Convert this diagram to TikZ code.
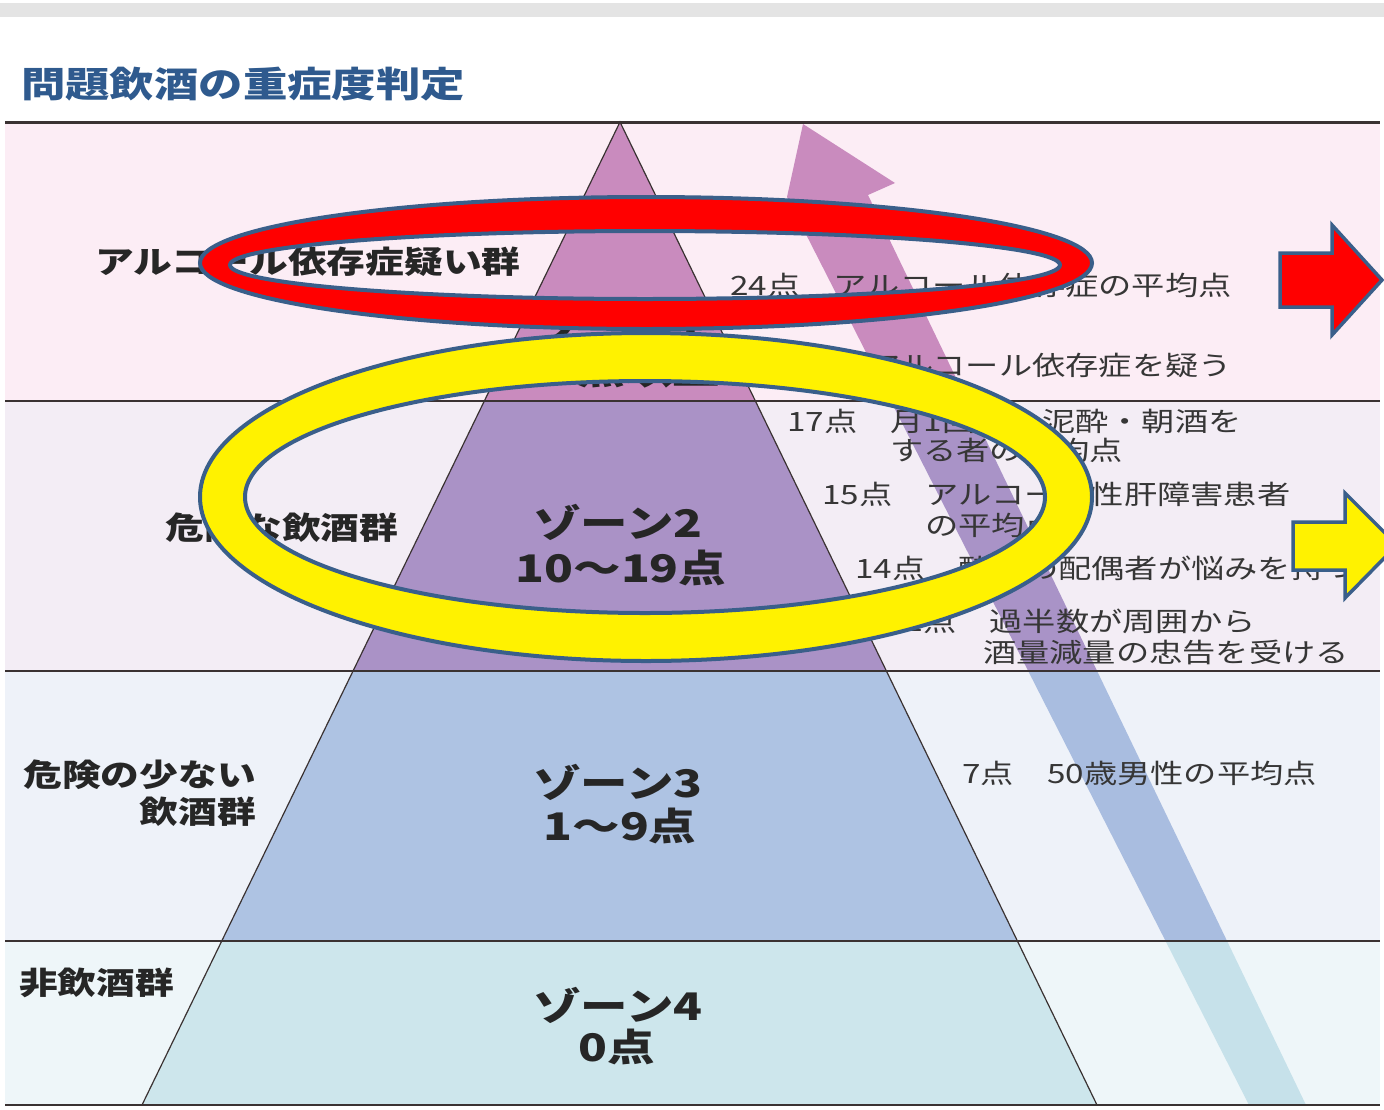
\documentclass[tikz,border=0pt]{standalone}
\usepackage{fontspec}
\setmainfont[FakeStretch=1.25]{Noto Sans CJK JP}
\definecolor{bandA}{HTML}{FCEDF5}
\definecolor{bandB}{HTML}{F3EDF5}
\definecolor{bandC}{HTML}{EEF2F9}
\definecolor{bandD}{HTML}{EEF6F9}
\definecolor{pyrA}{HTML}{C98BBE}
\definecolor{pyrB}{HTML}{AA92C6}
\definecolor{pyrC}{HTML}{AEC3E3}
\definecolor{pyrD}{HTML}{CDE6EC}
\definecolor{arrA}{HTML}{C98BBE}
\definecolor{arrB}{HTML}{A993C7}
\definecolor{arrC}{HTML}{A9BDE0}
\definecolor{arrD}{HTML}{C6E1EA}
\definecolor{ringedge}{HTML}{3A5F8A}
\definecolor{titleblue}{HTML}{2F5A8E}
\definecolor{linecol}{HTML}{3A3232}
\definecolor{txtgray}{HTML}{363636}
\definecolor{topbar}{HTML}{E4E4E4}
\tikzset{
  bandline/.style={draw=linecol, line width=2.5pt},
  pyredge/.style={draw=linecol, line width=1.2pt},
  leftlabel/.style={inner sep=0pt, font=\bfseries\fontsize{31}{36}\selectfont, text=black!85},
  righttext/.style={inner sep=0pt, font=\fontsize{26.6}{30}\selectfont, text=txtgray, anchor=west},
  zonetext/.style={inner sep=0pt, font=\bfseries\fontsize{38}{44}\selectfont, text=black!85},
  ring/.style={draw=ringedge, line width=4pt, even odd rule},
  blockarrow/.style={draw=ringedge, line width=3.5pt, line join=miter},
  bigarrow/.style={insert path={(803,124) -- (895,183) -- (868,195) -- (1306,1105) -- (1249,1105) -- (787,197) -- cycle}}
}
\begin{document}
\begin{tikzpicture}[x=1pt,y=-1pt]
\useasboundingbox (0,0) rectangle (1384,1109);
\clip (0,0) rectangle (1384,1109);
\fill[white] (0,0) rectangle (1384,1109);
% top grey bar
\fill[topbar] (0,3) rectangle (1384,17);
% title
\node[anchor=west, inner sep=0pt, font=\bfseries\fontsize{35.5}{40}\selectfont, text=titleblue] (title) at (21,84) {問題飲酒の重症度判定};
% bands
\fill[bandA] (5,122) rectangle (1380,401);
\fill[bandB] (5,401) rectangle (1380,671);
\fill[bandC] (5,671) rectangle (1380,941);
\fill[bandD] (5,941) rectangle (1380,1105);
% big arrow, coloured per band
\begin{scope}\clip (5,110) rectangle (1380,401); \fill[arrA, bigarrow]; \end{scope}
\begin{scope}\clip (5,401) rectangle (1380,671); \fill[arrB, bigarrow]; \end{scope}
\begin{scope}\clip (5,671) rectangle (1380,941); \fill[arrC, bigarrow]; \end{scope}
\begin{scope}\clip (5,941) rectangle (1380,1105); \fill[arrD, bigarrow]; \end{scope}
% pyramid zones
\fill[pyrA] (620,122) -- (755.4,401) -- (484.3,401) -- cycle;
\fill[pyrB] (484.3,401) -- (755.4,401) -- (886.4,671) -- (353,671) -- cycle;
\fill[pyrC] (353,671) -- (886.4,671) -- (1017.5,941) -- (221.7,941) -- cycle;
\fill[pyrD] (221.7,941) -- (1017.5,941) -- (1097,1105) -- (142,1105) -- cycle;
\draw[pyredge] (142,1105) -- (620,122) -- (1097,1105);
% band lines
\draw[bandline, line width=3pt] (5,122) -- (1380,122);
\draw[bandline] (5,401) -- (1380,401);
\draw[bandline] (5,671) -- (1380,671);
\draw[bandline] (5,941) -- (1380,941);
\draw[bandline] (5,1105) -- (1380,1105);
% left labels
\node[leftlabel] (g1) at (308,262) {アルコール依存症疑い群};
\node[leftlabel] (g2) at (282,528) {危険な飲酒群};
\node[leftlabel, anchor=east] (g3a) at (256,775) {危険の少ない};
\node[leftlabel, anchor=east] (g3b) at (256,812) {飲酒群};
\node[leftlabel, anchor=west] (g4) at (19,983) {非飲酒群};
% zone labels
\node[zonetext] (z1a) at (620,326) {ゾーン1};
\node[zonetext] (z1b) at (620,370) {20点以上};
\node[zonetext] (z2a) at (618,522) {ゾーン2};
\node[zonetext] (z2b) at (621,568) {10〜19点};
\node[zonetext] (z3a) at (618,782) {ゾーン3};
\node[zonetext] (z3b) at (620,826) {1〜9点};
\node[zonetext] (z4a) at (618,1005) {ゾーン4};
\node[zonetext] (z4b) at (617,1047) {0点};
% right texts
\node[righttext] (r24) at (730,285) {24点　アルコール依存症の平均点};
\node[righttext, anchor=east] (r20) at (1232,365) {20点　アルコール依存症を疑う};
\node[righttext] (r17a) at (787,421) {17点　月1回以上泥酔・朝酒を};
\node[righttext] (r17b) at (890,450) {する者の平均点};
\node[righttext] (r15a) at (822,494) {15点　アルコール性肝障害患者};
\node[righttext] (r15b) at (925,525) {の平均点};
\node[righttext] (r14) at (855,568) {14点　酔者の配偶者が悩みを持つ};
\node[righttext] (r12a) at (886,621) {12点　過半数が周囲から};
\node[righttext] (r12b) at (983,652) {酒量減量の忠告を受ける};
\node[righttext] (r7) at (962,773) {7点　50歳男性の平均点};
% rings
\draw[ring, fill=red] (646,263) ellipse [x radius=446pt, y radius=66pt] (645,265) ellipse [x radius=415pt, y radius=34pt];
\draw[ring, fill=yellow] (646,497) ellipse [x radius=446pt, y radius=164pt] (645,497) ellipse [x radius=400pt, y radius=116pt];
% block arrows
\draw[blockarrow, fill=red] (1280,253) -- (1332,253) -- (1332,225) -- (1382,280) -- (1332,335) -- (1332,307) -- (1280,307) -- cycle;
\draw[blockarrow, fill=yellow] (1293,522) -- (1345,522) -- (1345,493) -- (1397,545) -- (1345,598) -- (1345,570) -- (1293,570) -- cycle;
\end{tikzpicture}
\end{document}
